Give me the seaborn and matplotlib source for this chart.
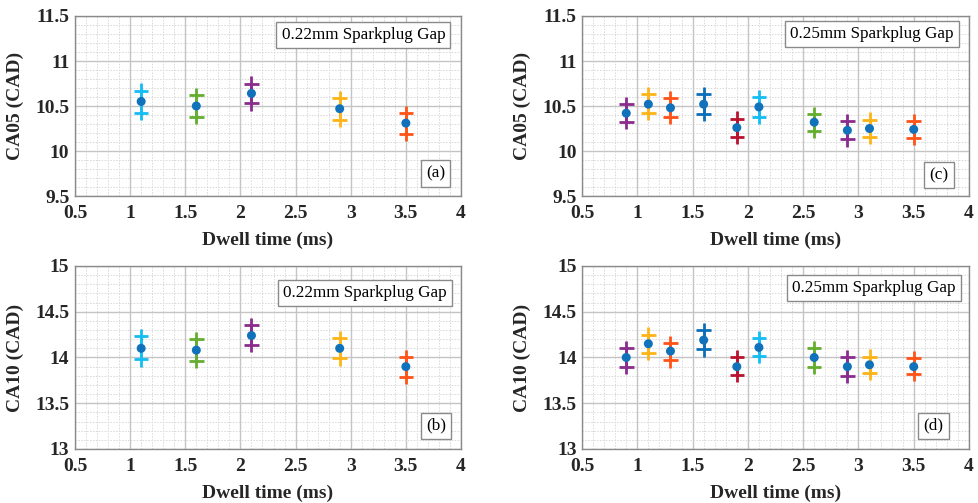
import numpy as np
import pandas as pd
import matplotlib
matplotlib.use("Agg")
import matplotlib.pyplot as plt
from matplotlib.ticker import MultipleLocator, FuncFormatter
import seaborn as sns

# ---------------- data ----------------
# 0.22 mm gap
dwell_22 = [1.1, 1.6, 2.1, 2.9, 3.5]
colors_22 = ["cyan", "green", "purple", "yellow", "orange"]
ca05_22_mean = [10.55, 10.50, 10.64, 10.47, 10.31]
ca05_22_up = [10.67, 10.62, 10.75, 10.59, 10.42]
ca05_22_lo = [10.42, 10.38, 10.53, 10.35, 10.19]
ca10_22_mean = [14.10, 14.08, 14.24, 14.10, 13.90]
ca10_22_up = [14.23, 14.20, 14.35, 14.21, 14.00]
ca10_22_lo = [13.98, 13.96, 14.14, 13.99, 13.79]

# 0.25 mm gap
dwell_25 = [0.9, 1.1, 1.3, 1.6, 1.9, 2.1, 2.6, 2.9, 3.1, 3.5]
colors_25 = ["purple", "yellow", "orange", "blue", "crimson", "cyan",
             "green", "purple", "yellow", "orange"]
ca05_25_mean = [10.42, 10.52, 10.48, 10.52, 10.26, 10.49, 10.32, 10.23, 10.25, 10.24]
ca05_25_up = [10.52, 10.63, 10.59, 10.63, 10.36, 10.60, 10.41, 10.33, 10.35, 10.33]
ca05_25_lo = [10.32, 10.42, 10.38, 10.41, 10.16, 10.38, 10.22, 10.13, 10.16, 10.15]
ca10_25_mean = [14.00, 14.15, 14.07, 14.19, 13.90, 14.11, 14.00, 13.90, 13.92, 13.90]
ca10_25_up = [14.10, 14.25, 14.16, 14.30, 14.00, 14.21, 14.10, 14.00, 14.01, 13.99]
ca10_25_lo = [13.90, 14.05, 13.97, 14.09, 13.81, 14.02, 13.90, 13.80, 13.83, 13.82]

palette = {
    "cyan": "#14BDF2",
    "green": "#63AE2E",
    "purple": "#8A2B8E",
    "yellow": "#FDB416",
    "orange": "#FF5317",
    "blue": "#0B6FB8",
    "crimson": "#B8122F",
}
dot_color = "#0F72BB"

# ---------------- style ----------------
sns.set_style("white")
plt.rcParams["font.family"] = ["Liberation Serif", "DejaVu Serif"]

fig = plt.figure(figsize=(9.79, 5.03), dpi=100)

panels = [
    # rect, x, colours, mean, up, lo, ylim, ylabel, gap text, tag, gap box (right, ycenter), tag box (right, ycenter)
    ([0.0766, 0.6103, 0.3943, 0.3579], dwell_22, colors_22, ca05_22_mean, ca05_22_up, ca05_22_lo,
     (9.5, 11.5), "CA05 (CAD)", "0.22mm Sparkplug Gap", "(a)", (0.971, 0.894), (0.971, 0.125)),
    ([0.5945, 0.6103, 0.3953, 0.3579], dwell_25, colors_25, ca05_25_mean, ca05_25_up, ca05_25_lo,
     (9.5, 11.5), "CA05 (CAD)", "0.25mm Sparkplug Gap", "(c)", (0.972, 0.898), (0.959, 0.117)),
    ([0.0766, 0.1074, 0.3943, 0.3638], dwell_22, colors_22, ca10_22_mean, ca10_22_up, ca10_22_lo,
     (13, 15), "CA10 (CAD)", "0.22mm Sparkplug Gap", "(b)", (0.975, 0.854), (0.973, 0.127)),
    ([0.5945, 0.1074, 0.3953, 0.3638], dwell_25, colors_25, ca10_25_mean, ca10_25_up, ca10_25_lo,
     (13, 15), "CA10 (CAD)", "0.25mm Sparkplug Gap", "(d)", (0.978, 0.881), (0.946, 0.127)),
]

fmt = FuncFormatter(lambda v, p: f"{v:g}")

for rect, xs, cols, mean, up, lo, ylim, ylab, gap, tag, gpos, tpos in panels:
    ax = fig.add_axes(rect)
    df = pd.DataFrame({"x": xs, "c": cols, "mean": mean, "up": up, "lo": lo})
    # vertical range lines
    for _, r in df.iterrows():
        ax.plot([r["x"], r["x"]], [r["lo"], r["up"]], color=palette[r["c"]],
                lw=1.8, zorder=3, solid_capstyle="butt")
    long = pd.concat([
        df[["x", "c"]].assign(y=df["up"]),
        df[["x", "c"]].assign(y=df["lo"]),
    ])
    sns.scatterplot(data=long, x="x", y="y", hue="c", palette=palette, marker="+",
                    s=110, linewidth=2.0, legend=False, ax=ax, zorder=4)
    sns.scatterplot(data=df, x="x", y="mean", color=dot_color, s=42, edgecolor="none",
                    legend=False, ax=ax, zorder=5)

    ax.set_xlim(0.5, 4)
    ax.set_ylim(*ylim)
    ax.xaxis.set_major_locator(MultipleLocator(0.5))
    ax.yaxis.set_major_locator(MultipleLocator(0.5))
    ax.xaxis.set_minor_locator(MultipleLocator(0.1))
    ax.yaxis.set_minor_locator(MultipleLocator(0.1))
    ax.xaxis.set_major_formatter(fmt)
    ax.yaxis.set_major_formatter(fmt)
    ax.grid(which="major", color="#c4c4c4", lw=1.0)
    ax.grid(which="minor", color="#d8d8d8", lw=0.7, ls=(0, (1.5, 1.5)))
    ax.set_axisbelow(True)
    for s in ax.spines.values():
        s.set_color("#8a8a8a")
        s.set_linewidth(1.0)
    ax.tick_params(which="both", direction="in", length=0, labelsize=14)
    ax.tick_params(axis="x", pad=6.5)
    ax.tick_params(axis="y", pad=4)
    for lab in ax.get_xticklabels() + ax.get_yticklabels():
        lab.set_fontweight("bold")
    ax.set_xlabel("Dwell time (ms)", fontsize=14, fontweight="bold", labelpad=7)
    ax.set_ylabel(ylab, fontsize=14, fontweight="bold", labelpad=8)

    ax.text(gpos[0] - 0.012, gpos[1], gap, transform=ax.transAxes, ha="right", va="center",
            fontsize=12.3, color="black", zorder=6,
            bbox=dict(boxstyle="square,pad=0.3", fc="white", ec="#8a8a8a", lw=1.0))
    ax.text(tpos[0] - 0.012, tpos[1], tag, transform=ax.transAxes, ha="right", va="center",
            fontsize=12.3, color="black", zorder=6,
            bbox=dict(boxstyle="square,pad=0.3", fc="white", ec="#8a8a8a", lw=1.0))

fig.savefig("out.png", dpi=100)
